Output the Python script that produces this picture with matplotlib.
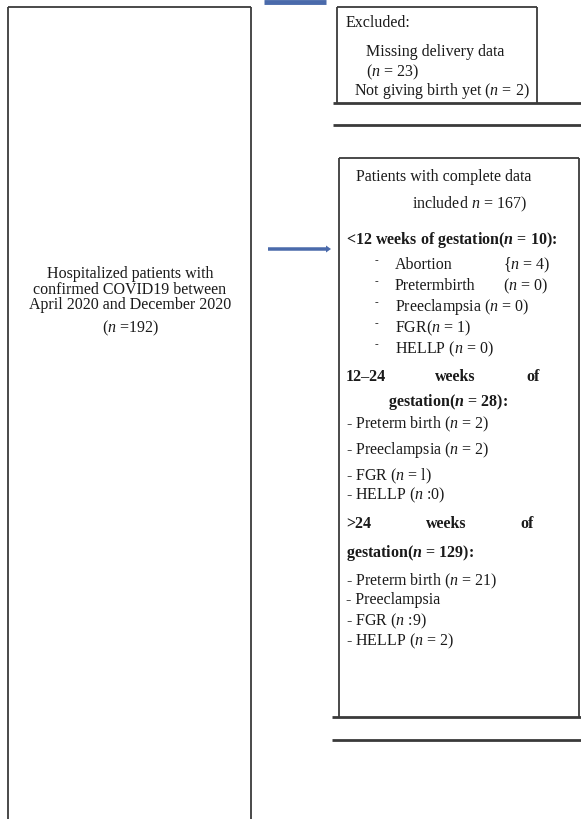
import matplotlib
matplotlib.use('Agg')
import matplotlib.pyplot as plt
from matplotlib.patches import FancyArrow

plt.rcParams['font.family'] = 'Liberation Serif'
plt.rcParams['mathtext.fontset'] = 'custom'
plt.rcParams['mathtext.rm'] = 'Liberation Serif'
plt.rcParams['mathtext.it'] = 'Liberation Serif:italic'
plt.rcParams['mathtext.bf'] = 'Liberation Serif:bold'
plt.rcParams['mathtext.bfit'] = 'Liberation Serif:italic:bold'

# text of the flow chart
source_lines = ['Hospitalized patients with', 'confirmed COVID19 between',
                'April 2020 and December 2020']
source_count = '($n$ =192)'

excluded_lines = ['Excluded:', 'Missing delivery data', '($n$ = 23)',
                  'Not giving birth yet ($n$ = 2)']

included_lines = ['Patients with complete data', 'included $n$ = 167)']

group1_title = '<12 weeks of gestation($\\mathbfit{n}$ = 10):'
group1_items = ['Abortion', 'Pretermbirth', 'Preeclampsia ($n$ = 0)',
                'FGR($n$ = 1)', 'HELLP ($n$ = 0)']
group1_counts = ['{$n$ = 4)', '($n$ = 0)', '', '', '']

group2_title = ['12\u201324', 'weeks', 'of']
group2_sub = 'gestation($\\mathbfit{n}$ = 28):'
group2_items = ['- Preterm birth ($n$ = 2)', '- Preeclampsia ($n$ = 2)',
                '- FGR ($n$ = l)', '- HELLP ($n$ :0)']

group3_title = ['>24', 'weeks', 'of']
group3_sub = 'gestation($\\mathbfit{n}$ = 129):'
group3_items = ['- Preterm birth ($n$ = 21)', '- Preeclampsia',
                '- FGR ($n$ :9)', '- HELLP ($n$ = 2)']

W, H = 581, 819
fig = plt.figure(figsize=(W / 100, H / 100), dpi=100)
ax = fig.add_axes([0, 0, 1, 1])
ax.set_xlim(0, W)
ax.set_ylim(H, 0)
ax.axis('off')

edge = '#3a3a3a'
ink = '#1a1a1a'
blue = '#4a6aab'
fs = 11.5

def line(x0, x1, y0, y1, lw=1.3, c=edge):
    ax.plot([x0, x1], [y0, y1], color=c, lw=lw, solid_capstyle='butt')

def txt(x, y, s, **kw):
    ax.text(x, y, s, va='center', fontsize=kw.pop('fontsize', fs),
            color=ink, **kw)

# left box (open at the bottom)
line(8, 251, 7, 7)
line(8, 8, 7, H + 5)
line(251, 251, 7, H + 5)
for i, s in enumerate(source_lines):
    txt(130, 274 + 15.5 * i, s, ha='center')
txt(130, 328, source_count, ha='center')

# arrows
line(264, 326, 2, 2, lw=3.5, c=blue)
ax.add_patch(FancyArrow(268, 249, 58, 0, width=3.5, head_width=7,
                        head_length=5, color=blue, lw=0))

# excluded box
line(337, 537, 7, 7)
line(337, 337, 7, 103)
line(537, 537, 7, 103)
line(333, W, 103, 103, lw=2)
line(333, W, 125, 125, lw=2)
txt(346, 23, excluded_lines[0])
txt(366, 52, excluded_lines[1])
txt(366, 72, excluded_lines[2])
txt(354, 91, excluded_lines[3])

# included box
line(339, 579, 158, 158)
line(339, 339, 158, 717)
line(579, 579, 158, 717)
line(332, W, 717, 717, lw=2)
line(332, W, 740, 740, lw=2)
txt(356, 177, included_lines[0])
txt(412, 204, included_lines[1])

txt(346, 240, group1_title, fontweight='bold')
for i, (s, c) in enumerate(zip(group1_items, group1_counts)):
    y = 265 + 21 * i
    txt(375, y - 4, '-', fontsize=8)
    txt(395, y, s)
    if c:
        txt(503, y, c)

for s, x in zip(group2_title, [346, 435, 526]):
    txt(x, 377, s, fontweight='bold')
txt(388, 402, group2_sub, fontweight='bold')
for s, y in zip(group2_items, [424, 450, 476, 495]):
    txt(346, y, s)

for s, x in zip(group3_title, [346, 426, 520]):
    txt(x, 524, s, fontweight='bold')
txt(346, 553, group3_sub, fontweight='bold')
for s, y in zip(group3_items, [581, 600, 621, 641]):
    txt(346, y, s)

fig.savefig('out.png', dpi=100, facecolor='white')
